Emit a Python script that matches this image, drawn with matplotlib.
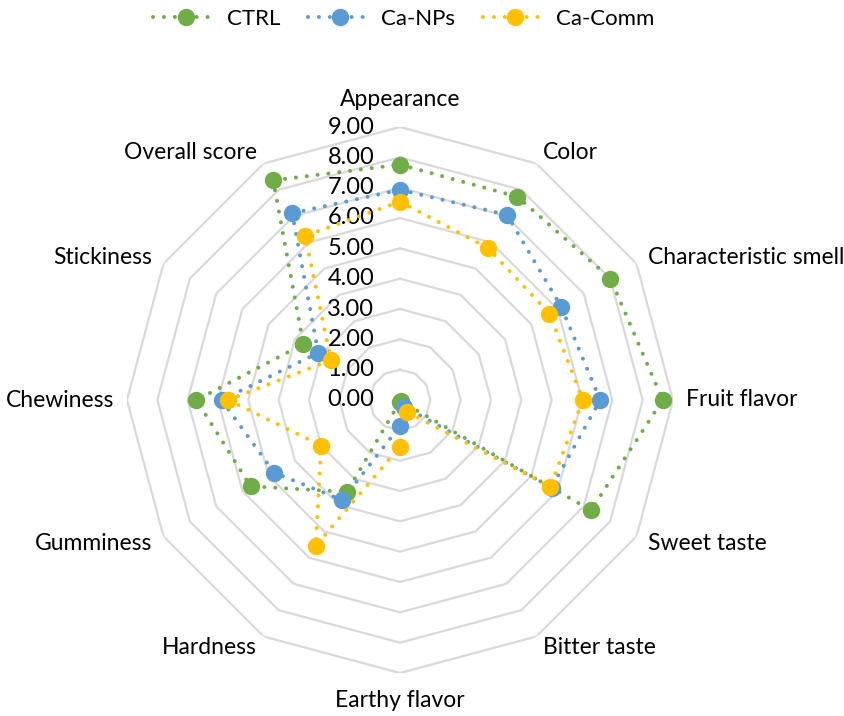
import numpy as np
import matplotlib
matplotlib.use("Agg")
import matplotlib.pyplot as plt
from matplotlib.lines import Line2D

plt.rcParams["font.family"] = ["Lato", "DejaVu Sans"]

categories = ["Appearance", "Color", "Characteristic smell", "Fruit flavor",
              "Sweet taste", "Bitter taste", "Earthy flavor", "Hardness",
              "Gumminess", "Chewiness", "Stickiness", "Overall score"]
ctrl = [7.76, 7.74, 8.01, 8.66, 7.27, 0.05, 0.05, 3.50, 5.69, 6.71, 3.68, 8.36]
ca_nps = [6.93, 7.05, 6.14, 6.60, 5.77, 0.25, 0.86, 3.81, 4.79, 5.88, 3.11, 7.11]
ca_comm = [6.54, 5.79, 5.69, 6.03, 5.72, 0.45, 1.54, 5.56, 3.00, 5.66, 2.63, 6.25]
series_names = ["CTRL", "Ca-NPs", "Ca-Comm"]
colors = ["#70AD47", "#5B9BD5", "#FFC000"]
rings = np.arange(0, 10)

W, H = 845, 716
fig = plt.figure(figsize=(W / 100, H / 100), dpi=100)
cx, cy, R = 400, 400, 273
ax = fig.add_axes([(cx - R) / W, 1 - (cy + R) / H, 2 * R / W, 2 * R / H],
                  projection="polar")
ax.set_theta_zero_location("N")
ax.set_theta_direction(-1)
ax.set_ylim(0, 9)
ax.grid(False)
ax.set_xticks([])
ax.set_yticks([])
ax.spines["polar"].set_visible(False)
ax.patch.set_visible(False)

n = len(categories)
theta = np.arange(n) * 2 * np.pi / n
theta_c = np.append(theta, theta[0])

# polygon grid rings
for r in rings[1:]:
    ax.plot(theta_c, [r] * (n + 1), color="#D9D9D9", lw=1.6, zorder=1)

# radial tick labels
for r in rings:
    ax.annotate(f"{r:.2f}", xy=(0, r), xytext=(-18.5, 0), textcoords="offset points",
                ha="right", va="center", fontsize=17, color="#000000")

# category labels
lab_r = 9 * 286 / R
for t, name in zip(theta, categories):
    s = np.sin(t)
    if abs(s) < 1e-6:
        ha = "center"
        va = "bottom" if np.cos(t) > 0 else "top"
        rr = 9 * 290 / R
    else:
        ha = "left" if s > 0 else "right"
        va = "center"
        rr = lab_r
    ax.text(t, rr, name, ha=ha, va=va, fontsize=16.5, clip_on=False)

# data series
handles = []
for vals, name, col in zip([ctrl, ca_nps, ca_comm], series_names, colors):
    v = np.append(vals, vals[0])
    ax.plot(theta_c, v, color=col, lw=2.9, linestyle=(0, (0.01, 2.7)),
            dash_capstyle="round", zorder=3, clip_on=False)
    ax.plot(theta, vals, linestyle="none", marker="o", ms=11.5, color=col,
            zorder=4, clip_on=False)
    handles.append(Line2D([], [], color=col, lw=2.9, linestyle=(0, (0.01, 2.7)),
                          dash_capstyle="round", marker="o", ms=11.5))

fig.legend(handles, series_names, loc="center", bbox_to_anchor=(404 / W, 1 - 19 / H),
           ncol=3, frameon=False, fontsize=16, handlelength=2.9,
           handletextpad=0.4, columnspacing=1.25)

fig.savefig("out.png", dpi=100)
